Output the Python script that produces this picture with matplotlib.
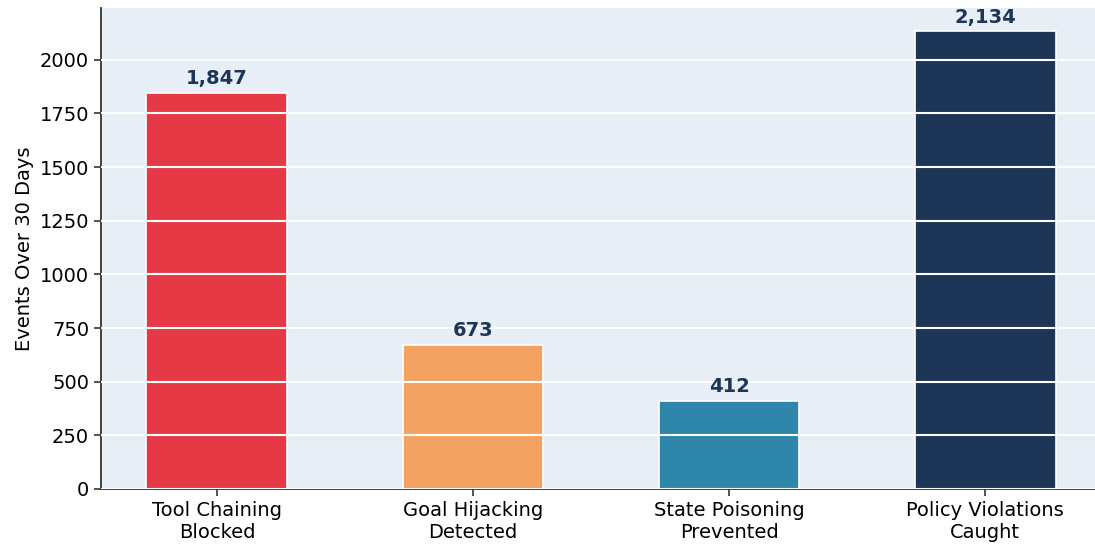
import matplotlib
matplotlib.use("Agg")
import matplotlib.pyplot as plt
import numpy as np

# Guardrail events over the last 30 days
categories = ["Tool Chaining\nBlocked", "Goal Hijacking\nDetected",
              "State Poisoning\nPrevented", "Policy Violations\nCaught"]
events = [1847, 673, 412, 2134]
bar_colors = ["#e63946", "#f4a261", "#2e86ab", "#1d3557"]

fig = plt.figure(figsize=(10.95, 5.45), dpi=100)
# axes run slightly past the right edge of the canvas
ax = fig.add_axes([101 / 1095, 56 / 545, 1000 / 1095, 481 / 545])
ax.set_facecolor("#e8eef5")

x = np.arange(len(categories))
bars = ax.bar(x, events, width=0.55, color=bar_colors, edgecolor="white", linewidth=1.2)

for bar, val in zip(bars, events):
    ax.text(bar.get_x() + bar.get_width() / 2, bar.get_height() + 20, f"{val:,}",
            ha="center", va="bottom", fontsize=14, fontweight="bold", color="#1d3557")

ax.set_xticks(x)
ax.set_xticklabels(categories, fontsize=14)
ax.tick_params(axis="both", labelsize=14, color="#333333", width=1.2, length=5)
ax.set_ylabel("Events Over 30 Days", fontsize=14)
ax.set_ylim(0, max(events) * 1.05)

# white grid drawn on top of the bars
ax.set_axisbelow(False)
ax.yaxis.grid(True, color="white", linewidth=1.5)
ax.spines["top"].set_visible(False)
ax.spines["right"].set_visible(False)
for side in ("left", "bottom"):
    ax.spines[side].set_linewidth(1.3)
    ax.spines[side].set_color("#333333")

plt.savefig("out.png", dpi=100)
